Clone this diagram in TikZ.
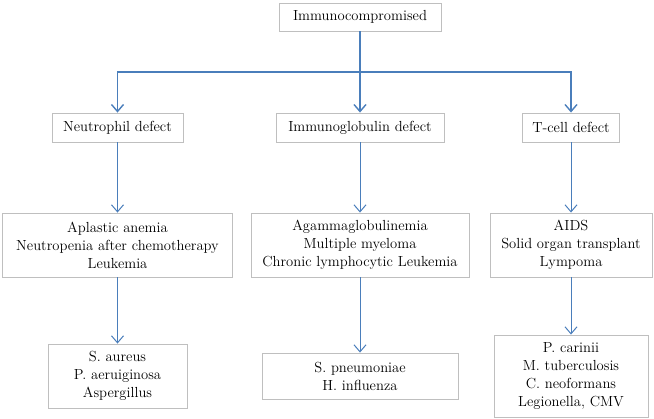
\documentclass[tikz,border=0pt]{standalone}
\usetikzlibrary{arrows.meta}
\definecolor{lineblue}{RGB}{74,126,187}
\definecolor{boxgray}{RGB}{191,191,191}
\begin{document}
\begin{tikzpicture}[x=1pt,y=-1pt,
  box/.style={draw=boxgray, line width=0.9pt, fill=white, align=center, inner sep=0pt,
    font=\fontsize{14.6}{18}\selectfont},
  thin/.style={draw=lineblue, line width=1pt, -{Straight Barb[length=7pt,width=12pt,line width=1pt]}},
  thickarr/.style={draw=lineblue, line width=1.8pt, -{Straight Barb[length=7pt,width=12pt,line width=1.4pt]}}
]
\useasboundingbox (0,0) rectangle (654,419);
\node[box, minimum width=162pt, minimum height=28pt] (top) at (360,17) {Immunocompromised};
\node[box, minimum width=131pt, minimum height=29pt] (neu) at (117.5,127.5) {Neutrophil defect};
\node[box, minimum width=168pt, minimum height=29pt] (imm) at (360,127.5) {Immunoglobulin defect};
\node[box, minimum width=97pt, minimum height=29pt] (tcell) at (571,127.5) {T-cell defect};
\node[box, minimum width=230pt, minimum height=64pt] (dl) at (117.5,245) {Aplastic anemia\\Neutropenia after chemotherapy\\Leukemia};
\node[box, minimum width=218pt, minimum height=64pt] (dm) at (360,245) {Agammaglobulinemia\\Multiple myeloma\\Chronic lymphocytic Leukemia};
\node[box, minimum width=162pt, minimum height=64pt] (dr) at (571,245) {AIDS\\Solid organ transplant\\Lympoma};
\node[box, minimum width=139pt, minimum height=64pt] (pl) at (117.5,376) {S. aureus\\P. aeruiginosa\\Aspergillus};
\node[box, minimum width=196pt, minimum height=46pt] (pm) at (360,376) {S. pneumoniae\\H. influenza};
\node[box, minimum width=154pt, minimum height=82pt] (pr) at (571,376) {P. carinii\\M. tuberculosis\\C. neoformans\\Legionella, CMV};
\coordinate (hub) at (360,72);
\draw[thickarr] (top.south) -- (imm.north);
\draw[thickarr] (hub) -| (neu.north);
\draw[thickarr] (hub) -| (tcell.north);
\draw[thin] (neu.south) -- (dl.north);
\draw[thin] (imm.south) -- (dm.north);
\draw[thin] (tcell.south) -- (dr.north);
\draw[thin] (dl.south) -- (pl.north);
\draw[thin] (dm.south) -- (pm.north);
\draw[thin] (dr.south) -- (pr.north);
\end{tikzpicture}
\end{document}
